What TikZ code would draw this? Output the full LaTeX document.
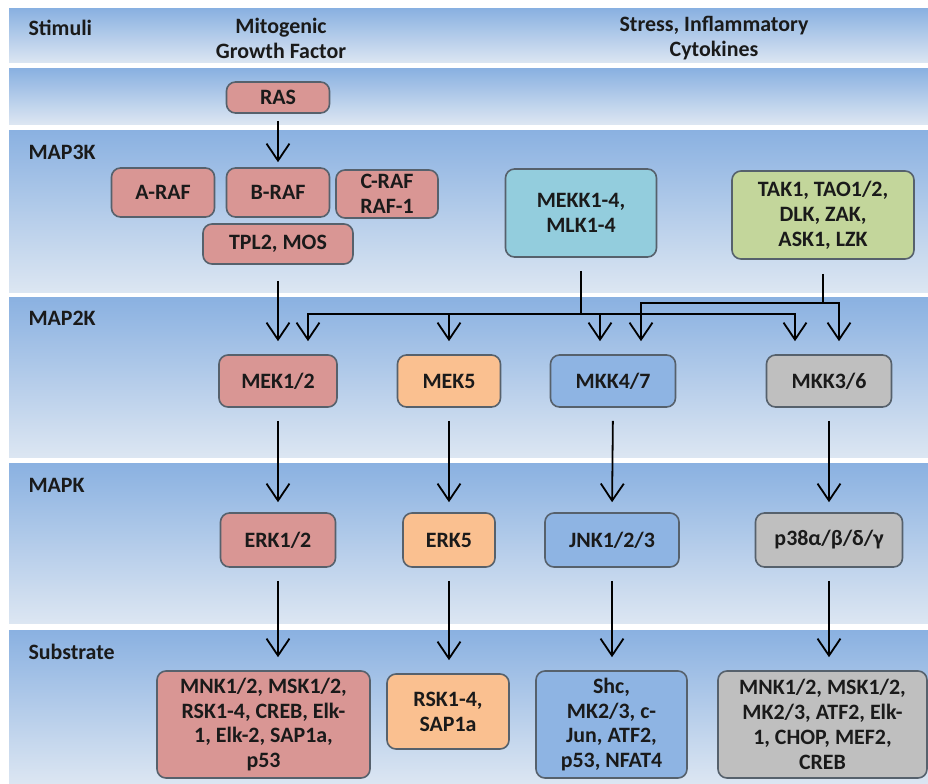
\documentclass[tikz,border=0pt]{standalone}
\usepackage{fontspec}
\setmainfont{Carlito}
\usetikzlibrary{arrows.meta, positioning, calc}
\definecolor{bandtop}{HTML}{8AB1E1}
\definecolor{bandbot}{HTML}{DCE6F2}
\definecolor{edge}{HTML}{56616C}
\definecolor{txt}{HTML}{1A1A1A}
\definecolor{rafred}{HTML}{D99694}
\definecolor{erkorange}{HTML}{FAC090}
\definecolor{jnkblue}{HTML}{8EB4E3}
\definecolor{mekkteal}{HTML}{93CDDD}
\definecolor{takgreen}{HTML}{C3D69B}
\definecolor{pgray}{HTML}{BFBFBF}

\begin{document}
\begin{tikzpicture}[x=1bp, y=-1bp,
  >={Straight Barb[length=17bp, width=23bp]},
  kinase/.style={draw=edge, line width=1.6bp, rounded corners=9bp,
    align=center, inner sep=0pt, text=txt,
    font=\bfseries\fontsize{22}{25}\selectfont},
  rowlabel/.style={anchor=west, text=txt,
    font=\bfseries\fontsize{22}{25}\selectfont},
  wire/.style={line width=1.8bp, draw=black},
  conn/.style={wire, ->, shorten <=14bp, shorten >=11bp}]

\useasboundingbox (0,0) rectangle (928,784);

% Background bands
\foreach \ya/\yb in {9/63, 69/124, 130/292, 297/457, 463/623, 630/784}
  \shade[top color=bandtop, bottom color=bandbot] (9,\ya) rectangle (928,\yb);

% Row labels and stimuli
\node[rowlabel] (lstim) at (25,28) {Stimuli};
\node[rowlabel] (lmap3k) at (25,152) {MAP3K};
\node[rowlabel] (lmap2k) at (25,318) {MAP2K};
\node[rowlabel] (lmapk) at (25,485) {MAPK};
\node[rowlabel] (lsub) at (25,652) {Substrate};
\node[kinase, draw=none] (mito) at (281,38) {Mitogenic\\Growth Factor};
\node[kinase, draw=none] (stress) at (714,38) {Stress, Inflammatory\\Cytokines};

% Upstream
\node[kinase, fill=rafred, minimum width=103bp, minimum height=31bp] (ras) at (278,97.5) {RAS};

% MAP3K
\node[kinase, fill=rafred, minimum width=103bp, minimum height=49bp] (araf) at (163,192.5) {A-RAF};
\node[kinase, fill=rafred, minimum width=103bp, minimum height=49bp] (braf) at (278,192.5) {B-RAF};
\node[kinase, fill=rafred, minimum width=102bp, minimum height=48bp] (craf) at (387,194) {C-RAF\\RAF-1};
\node[kinase, fill=rafred, minimum width=150bp, minimum height=40bp] (tpl) at (278,244) {TPL2, MOS};
\node[kinase, fill=mekkteal, minimum width=151bp, minimum height=88bp] (mekk) at (581,213) {MEKK1-4,\\MLK1-4};
\node[kinase, fill=takgreen, minimum width=182bp, minimum height=88bp] (tak) at (823,215) {TAK1, TAO1/2,\\DLK, ZAK,\\ASK1, LZK};

% MAP2K
\node[kinase, fill=rafred, minimum width=118bp, minimum height=52bp] (mek12) at (278,381) {MEK1/2};
\node[kinase, fill=erkorange, minimum width=103bp, minimum height=52bp] (mek5) at (449,381) {MEK5};
\node[kinase, fill=jnkblue, minimum width=125bp, minimum height=52bp] (mkk47) at (613,381) {MKK4/7};
\node[kinase, fill=pgray, minimum width=125bp, minimum height=52bp] (mkk36) at (829,381) {MKK3/6};

% MAPK
\node[kinase, fill=rafred, minimum width=115bp, minimum height=54bp] (erk12) at (278,540) {ERK1/2};
\node[kinase, fill=erkorange, minimum width=92bp, minimum height=54bp] (erk5) at (449,540) {ERK5};
\node[kinase, fill=jnkblue, minimum width=134bp, minimum height=54bp] (jnk) at (612,540) {JNK1/2/3};
\node[kinase, fill=pgray, minimum width=147bp, minimum height=54bp] (p38) at (829,540) {p38α/β/δ/γ};

% Substrates
\node[kinase, fill=rafred, minimum width=213bp, minimum height=107bp] (sub1) at (263.5,724.5)
  {MNK1/2, MSK1/2,\\RSK1-4, CREB, Elk-\\1, Elk-2, SAP1a,\\p53};
\node[kinase, fill=erkorange, minimum width=122bp, minimum height=75bp] (sub2) at (448,711.5)
  {RSK1-4,\\SAP1a};
\node[kinase, fill=jnkblue, minimum width=151bp, minimum height=107bp] (sub3) at (611.5,724.5)
  {Shc,\\MK2/3, c-\\Jun, ATF2,\\p53, NFAT4};
\node[kinase, fill=pgray, minimum width=209bp, minimum height=107bp] (sub4) at (822.5,724.5)
  {MNK1/2, MSK1/2,\\MK2/3, ATF2, Elk-\\1, CHOP, MEF2,\\CREB};

% Arrows into MAP3K and MAP2K
\draw[conn, shorten <=7bp, shorten >=5bp] (ras.south) -- (braf.north);
\draw[conn, shorten <=16bp, shorten >=13bp] (tpl.south) -- (mek12.north);

% Branch lines from the stress MAP3Ks
\coordinate (busA) at ($(mekk.south)+(0,56)$);
\coordinate (busB) at ($(tak.south)+(0,43)$);
\draw[wire] ($(mekk.south)+(0,13)$) -- (busA);
\draw[wire] ($(tak.south)+(0,14)$) -- (busB);
\draw[wire, ->] (busA) -| ($(mek12.north)+(30,-13)$);
\draw[wire, ->] (busA) -| ($(mek5.north)+(0,-13)$);
\draw[wire, ->] (busA) -| ($(mkk47.north)+(-13,-13)$);
\draw[wire, ->] (busA) -| ($(mkk36.north)+(-34,-13)$);
\draw[wire, ->] (busB) -| ($(mkk47.north)+(28,-13)$);
\draw[wire, ->] (busB) -| ($(mkk36.north)+(10,-13)$);

% MAP2K -> MAPK -> substrates
\foreach \a/\b in {mek12/erk12, mek5/erk5, mkk47/jnk, mkk36/p38}
  \draw[conn, shorten <=13bp, shorten >=10bp] (\a.south) -- (\b.north);
\foreach \a/\b in {erk12/sub1, erk5/sub2, jnk/sub3, p38/sub4}
  \draw[conn, shorten <=13bp, shorten >=13bp] (\a.south) -- (\a.south |- \b.north);

\end{tikzpicture}
\end{document}
